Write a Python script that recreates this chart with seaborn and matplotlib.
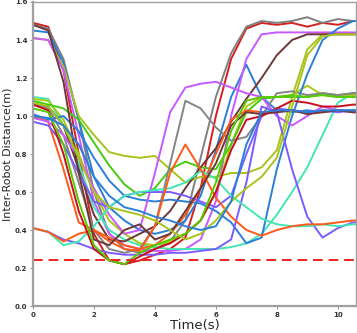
import matplotlib
matplotlib.use("Agg")
import matplotlib.pyplot as plt
import seaborn as sns
import pandas as pd

sns.set_style("white")
plt.rcParams['font.family'] = ['DejaVu Sans']

time_s = [0, 0.5, 1, 1.5, 2, 2.5, 3, 3.5, 4, 4.5, 5, 5.5, 6, 6.5, 7, 7.5, 8, 8.5, 9, 9.5, 10, 10.5, 10.6]

red_a = [1.49, 1.47, 1.24, 0.80, 0.38, 0.24, 0.22, 0.24, 0.27, 0.30, 0.36, 0.62, 1.00, 1.30, 1.46, 1.49, 1.48, 1.49, 1.47, 1.49, 1.48, 1.50, 1.50]
gray_a = [1.48, 1.46, 1.30, 0.98, 0.60, 0.38, 0.30, 0.28, 0.30, 0.34, 0.45, 0.78, 1.10, 1.33, 1.47, 1.50, 1.49, 1.50, 1.52, 1.49, 1.51, 1.50, 1.50]
blue_peak = [1.45, 1.44, 1.28, 0.98, 0.68, 0.52, 0.45, 0.40, 0.38, 0.40, 0.45, 0.58, 0.82, 1.10, 1.27, 1.10, 1.03, 1.02, 1.03, 1.02, 1.03, 1.03, 1.03]
lime_a = [1.41, 1.40, 1.26, 1.00, 0.90, 0.81, 0.79, 0.78, 0.79, 0.72, 0.65, 0.68, 0.68, 0.70, 0.70, 0.73, 0.82, 1.10, 1.35, 1.43, 1.43, 1.43, 1.43]
magenta_a = [1.41, 1.40, 1.24, 0.90, 0.55, 0.38, 0.32, 0.30, 0.29, 0.29, 0.30, 0.35, 0.55, 1.00, 1.30, 1.43, 1.44, 1.44, 1.44, 1.44, 1.44, 1.44, 1.44]
turq_late = [1.10, 1.09, 0.95, 0.75, 0.52, 0.40, 0.35, 0.32, 0.31, 0.30, 0.30, 0.30, 0.30, 0.31, 0.33, 0.38, 0.48, 0.60, 0.73, 0.90, 1.07, 1.12, 1.12]
lime_b = [1.09, 1.08, 0.98, 0.80, 0.60, 0.45, 0.38, 0.33, 0.32, 0.34, 0.38, 0.45, 0.60, 0.85, 1.05, 1.10, 1.10, 1.11, 1.16, 1.11, 1.10, 1.11, 1.11]
green_a = [1.08, 1.06, 1.04, 0.98, 0.86, 0.74, 0.64, 0.58, 0.62, 0.72, 0.76, 0.73, 0.72, 0.85, 1.02, 1.09, 1.10, 1.10, 1.10, 1.12, 1.11, 1.12, 1.12]
brown_a = [1.06, 1.05, 0.95, 0.72, 0.48, 0.35, 0.34, 0.38, 0.42, 0.50, 0.62, 0.73, 0.83, 0.97, 1.09, 1.20, 1.32, 1.40, 1.43, 1.43, 1.43, 1.43, 1.43]
gray_b = [1.06, 1.04, 0.90, 0.65, 0.40, 0.30, 0.28, 0.30, 0.42, 0.75, 1.08, 1.04, 0.94, 0.87, 0.89, 1.00, 1.12, 1.13, 1.11, 1.12, 1.11, 1.12, 1.12]
blue_late = [1.01, 0.98, 1.00, 0.92, 0.78, 0.66, 0.58, 0.56, 0.55, 0.56, 0.55, 0.54, 0.50, 0.44, 0.33, 0.36, 0.72, 1.00, 1.22, 1.40, 1.46, 1.50, 1.50]
orange_a = [1.00, 0.97, 0.72, 0.44, 0.40, 0.36, 0.32, 0.30, 0.32, 0.38, 0.48, 0.62, 0.80, 0.98, 1.03, 1.02, 1.02, 1.03, 1.02, 1.02, 1.03, 1.02, 1.02]
magenta_b = [0.99, 0.97, 0.90, 0.78, 0.62, 0.48, 0.38, 0.40, 0.70, 1.02, 1.15, 1.17, 1.18, 1.15, 1.12, 1.10, 1.00, 0.95, 1.00, 1.05, 1.03, 1.02, 1.02]
purple_a = [0.97, 0.95, 0.85, 0.70, 0.55, 0.52, 0.58, 0.60, 0.60, 0.60, 0.58, 0.55, 0.52, 0.58, 0.80, 1.00, 1.04, 1.03, 1.02, 1.03, 1.02, 1.03, 1.03]
purple_dip = [0.41, 0.39, 0.35, 0.33, 0.30, 0.28, 0.27, 0.27, 0.27, 0.28, 0.28, 0.29, 0.30, 0.35, 0.65, 1.05, 1.02, 0.72, 0.47, 0.36, 0.41, 0.44, 0.44]
turq_a = [0.41, 0.39, 0.32, 0.34, 0.42, 0.52, 0.58, 0.60, 0.61, 0.62, 0.65, 0.71, 0.67, 0.58, 0.52, 0.46, 0.43, 0.42, 0.42, 0.43, 0.42, 0.43, 0.43]
orange_b = [0.41, 0.39, 0.34, 0.38, 0.40, 0.34, 0.30, 0.29, 0.42, 0.70, 0.85, 0.72, 0.57, 0.47, 0.40, 0.37, 0.40, 0.42, 0.43, 0.43, 0.44, 0.45, 0.45]
brown_b = [1.48, 1.45, 1.18, 0.70, 0.35, 0.32, 0.40, 0.43, 0.35, 0.38, 0.50, 0.62, 0.75, 0.95, 1.02, 1.01, 1.02, 1.03, 1.01, 1.02, 1.03, 1.02, 1.02]
red_b = [1.06, 1.03, 0.80, 0.50, 0.30, 0.24, 0.22, 0.26, 0.30, 0.33, 0.38, 0.45, 0.60, 0.82, 0.98, 1.00, 1.04, 1.08, 1.07, 1.05, 1.05, 1.06, 1.06]
green_b = [1.04, 1.02, 0.85, 0.55, 0.32, 0.24, 0.22, 0.28, 0.32, 0.35, 0.38, 0.45, 0.65, 0.92, 1.08, 1.10, 1.10, 1.11, 1.10, 1.11, 1.10, 1.10, 1.10]
lime_c = [1.07, 1.05, 0.95, 0.78, 0.60, 0.52, 0.50, 0.48, 0.45, 0.40, 0.35, 0.38, 0.45, 0.55, 0.62, 0.68, 0.78, 1.05, 1.32, 1.42, 1.43, 1.43, 1.43]
blue_c = [1.00, 0.99, 0.95, 0.85, 0.68, 0.58, 0.52, 0.50, 0.47, 0.45, 0.42, 0.40, 0.42, 0.55, 0.85, 1.02, 1.03, 1.03, 1.02, 1.03, 1.03, 1.03, 1.03]

safety_distance = 0.24

series = {
    "red_a": red_a, "gray_a": gray_a, "blue_peak": blue_peak, "lime_a": lime_a,
    "magenta_a": magenta_a, "turq_late": turq_late, "lime_b": lime_b, "green_a": green_a,
    "brown_a": brown_a, "gray_b": gray_b, "blue_late": blue_late, "orange_a": orange_a,
    "magenta_b": magenta_b, "purple_a": purple_a, "purple_dip": purple_dip, "turq_a": turq_a,
    "orange_b": orange_b, "brown_b": brown_b, "red_b": red_b, "green_b": green_b,
    "lime_c": lime_c, "blue_c": blue_c,
}
colors = {
    "red_a": "#d42020", "gray_a": "#808080", "blue_peak": "#2b7fd8", "lime_a": "#a8c41c",
    "magenta_a": "#c858ff", "turq_late": "#44e6b4", "lime_b": "#a4cc10", "green_a": "#44cc11",
    "brown_a": "#6e3838", "gray_b": "#858585", "blue_late": "#2b7fd8", "orange_a": "#ff5a18",
    "magenta_b": "#c858ff", "purple_a": "#7a5cff", "purple_dip": "#7a5cff", "turq_a": "#44e6b4",
    "orange_b": "#ff5a18", "brown_b": "#6e3838", "red_b": "#c8101c", "green_b": "#55cc00",
    "lime_c": "#a8c41c", "blue_c": "#2b7fd8",
}

rows = []
for name, vals in series.items():
    for t, v in zip(time_s, vals):
        rows.append({"Time": t, "Distance": v, "pair": name})
df = pd.DataFrame(rows)

fig = plt.figure(figsize=(3.57, 3.33), dpi=100)
ax = fig.add_axes([0.0924, 0.081, 0.905, 0.913])

sns.lineplot(data=df, x="Time", y="Distance", hue="pair", palette=colors,
             linewidth=1.4, legend=False, ax=ax, estimator=None, sort=False)
ax.axhline(safety_distance, color="#ee2222", linestyle=(0, (5, 3)), linewidth=1.4)

ax.set_xlim(0, 10.6)
ax.set_ylim(0, 1.6)
ax.set_xticks([0, 2, 4, 6, 8, 10])
ax.set_yticks([0.0, 0.2, 0.4, 0.6, 0.8, 1.0, 1.2, 1.4, 1.6])
ax.set_xticklabels(["0", "2", "4", "6", "8", "10"], fontsize=5, fontweight="bold")
ax.set_yticklabels(["0.0", "0.2", "0.4", "0.6", "0.8", "1.0", "1.2", "1.4", "1.6"], fontsize=5, fontweight="bold")
ax.tick_params(axis="both", length=2.5, width=0.8, color="#999999", pad=1.5, labelcolor="#333333")
ax.tick_params(bottom=True, left=True)
ax.set_xlabel("Time(s)", fontsize=9.5, labelpad=1)
ax.set_ylabel("Inter-Robot Distance(m)", fontsize=8, labelpad=1.5)
for s in ["left", "bottom"]:
    ax.spines[s].set_color("#a0a0a0")
    ax.spines[s].set_linewidth(1.6)
for s in ["top", "right"]:
    ax.spines[s].set_color("#a0a0a0")
    ax.spines[s].set_linewidth(1.0)

fig.savefig("out.png", dpi=100)
